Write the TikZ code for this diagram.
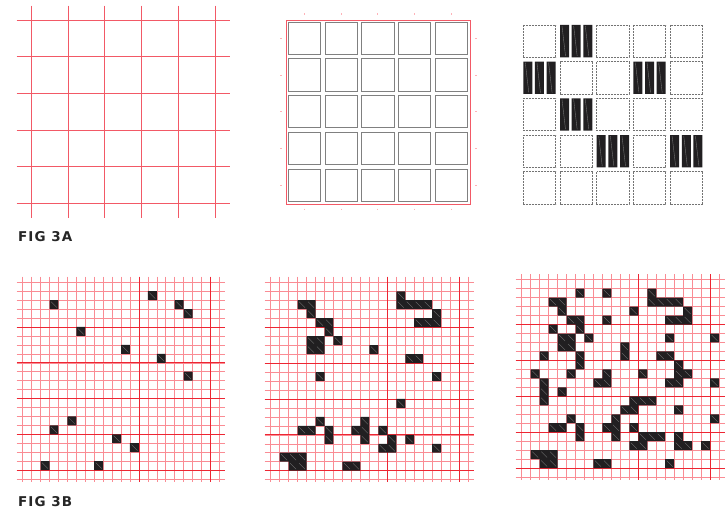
\documentclass[tikz,border=0pt]{standalone}
\usepackage{fontspec}
\setmainfont{Liberation Sans}
\newfontfamily\figfont[LetterSpace=8]{DejaVu Sans}
\definecolor{gridlight}{rgb}{0.98,0.55,0.58}
\definecolor{griddark}{rgb}{0.93,0.15,0.2}
\definecolor{gridone}{rgb}{0.95,0.35,0.4}
\definecolor{cellblack}{rgb}{0.13,0.12,0.13}
\definecolor{celldiagc}{rgb}{0.45,0.45,0.45}
\definecolor{boxgray}{rgb}{0.5,0.5,0.5}
\definecolor{boxgrayB}{rgb}{0.45,0.45,0.45}
\definecolor{tickpink}{rgb}{1,0.7,0.72}
\definecolor{labelc}{rgb}{0.15,0.15,0.15}
\begin{document}
\begin{tikzpicture}[x=1pt,y=-1pt,
  figlabel/.style={anchor=base west,inner sep=0pt,font=\figfont\bfseries\fontsize{13.5}{14}\selectfont,text=labelc},
  redline/.style={draw=gridone,line width=0.6pt},
  lightgrid/.style={draw=gridlight,line width=0.5pt},
  darkgrid/.style={draw=griddark,line width=0.6pt},
  blackcell/.style={fill=cellblack},
  celldiag/.style={draw=celldiagc,line width=0.35pt},
  boxA/.style={draw=boxgray,line width=1pt},
  boxB/.style={draw=boxgrayB,line width=0.6pt,dash pattern=on 1pt off 0.5pt},
  outerred/.style={draw=gridone,line width=0.7pt},
  tickmark/.style={draw=tickpink,line width=0.9pt},
  barfill/.style={fill=cellblack},
  bardiag/.style={draw=celldiagc,line width=0.4pt}
]
\useasboundingbox (0,0) rectangle (725,510);
\fill[white] (0,0) rectangle (725,510);

% ---------- Grid 1 (top left) ----------
\draw[redline] \foreach \i in {0,...,5}{
  ({31+36.8*\i},5.7) -- ({31+36.8*\i},218)
  (16.7,{20+36.7*\i}) -- (230,{20+36.7*\i})
};

% ---------- Grid 2 (top middle) ----------
\draw[outerred] (286,20) rectangle (470,204);
\draw[boxA] \foreach \i in {0,...,4}{ \foreach \j in {0,...,4}{
    ({288.3+36.7*\i},{22.3+36.7*\j}) rectangle ++(32.3,32.3) } };
\draw[tickmark] \foreach \i in {0,...,4}{
  ({304.5+36.7*\i},13.3) -- ++(0,1.5)
  ({304.5+36.7*\i},208.6) -- ++(0,1.5)
  (280,{38.5+36.7*\i}) -- ++(1.5,0)
  (475.3,{38.5+36.7*\i}) -- ++(1.5,0) };

% ---------- Grid 3 (top right) ----------
\draw[boxB] \foreach \i/\j in {0/0,2/0,3/0,4/0, 1/1,2/1,4/1, 0/2,2/2,3/2,4/2, 0/3,1/3,3/3, 0/4,1/4,2/4,3/4,4/4}{
    ({523.3+36.7*\i},{25+36.7*\j}) rectangle ++(32.3,32.3) };
\fill[barfill] \foreach \i/\j in {1/0,0/1,3/1,1/2,2/3,4/3}{ \foreach \k in {0,1,2}{
    ({523.3+36.7*\i+11.65*\k},{25+36.7*\j}) rectangle ++(9,32.3) } };
\draw[bardiag] \foreach \i/\j in {1/0,0/1,3/1,1/2,2/3,4/3}{ \foreach \k in {0,1,2}{
    ({523.3+36.7*\i+11.65*\k+2},{25+36.7*\j+1}) -- ++(3.5,30) } };

% ---------- Bottom grids ----------
\newcommand{\drawBGrid}[3]{%
  \draw[lightgrid] \foreach \n in {0,...,22}{
    ({#1+#3*\n},{#2-5.6}) -- ({#1+#3*\n},{#2+22*#3+2.8})
    ({#1-6},{#2+#3*\n}) -- ({#1+22*#3+5.7},{#2+#3*\n}) };
  \draw[darkgrid] \foreach \n in {13,21}{
    ({#1+#3*\n},{#2-5.6}) -- ({#1+#3*\n},{#2+22*#3+2.8}) }
    \foreach \n in {5,9,13,17,21}{
    ({#1-6},{#2+#3*\n}) -- ({#1+22*#3+5.7},{#2+#3*\n}) };
}
\newcommand{\drawBCells}[4]{%
  \fill[blackcell] \foreach \cc/\rr in {#4}{
    ({#1+#3*\cc},{#2+#3*\rr}) rectangle ++(#3,#3) };
  \draw[celldiag] \foreach \cc/\rr in {#4}{
    ({#1+#3*\cc+1.5},{#2+#3*\rr+1.5}) -- ++({#3-3},{#3-3}) };
}

\drawBGrid{22.7}{282.3}{8.94}
\drawBCells{22.7}{282.3}{8.94}{3/2,14/1,17/2,18/3,6/5,11/7,15/8,18/10,5/15,3/16,10/17,12/18,2/20,8/20}

\drawBGrid{270.7}{282.3}{8.97}
\drawBCells{270.7}{282.3}{8.97}{14/1,3/2,4/2,14/2,15/2,16/2,17/2,4/3,18/3,5/4,6/4,16/4,17/4,18/4,6/5,4/6,5/6,7/6,4/7,5/7,11/7,15/8,16/8,5/10,18/10,14/13,5/15,10/15,3/16,4/16,6/16,9/16,10/16,12/16,6/17,10/17,13/17,15/17,12/18,13/18,18/18,1/19,2/19,3/19,2/20,3/20,8/20,9/20}

\drawBGrid{521.7}{279.7}{8.97}
\drawBCells{521.7}{279.7}{8.97}{6/1,9/1,14/1,3/2,4/2,14/2,15/2,16/2,17/2,4/3,12/3,18/3,5/4,6/4,9/4,16/4,17/4,18/4,3/5,6/5,4/6,5/6,7/6,16/6,21/6,4/7,5/7,11/7,2/8,6/8,11/8,15/8,16/8,6/9,17/9,1/10,5/10,9/10,13/10,17/10,18/10,2/11,8/11,9/11,16/11,17/11,21/11,2/12,4/12,2/13,12/13,13/13,14/13,11/14,12/14,17/14,5/15,10/15,21/15,3/16,4/16,6/16,9/16,10/16,12/16,6/17,10/17,13/17,14/17,15/17,17/17,12/18,13/18,17/18,18/18,20/18,1/19,2/19,3/19,2/20,3/20,8/20,9/20,16/20}

% ---------- Labels ----------
\node[figlabel] (figA) at (18,242) {FIG 3A};
\node[figlabel] (figB) at (18,506) {FIG 3B};
\end{tikzpicture}
\end{document}
